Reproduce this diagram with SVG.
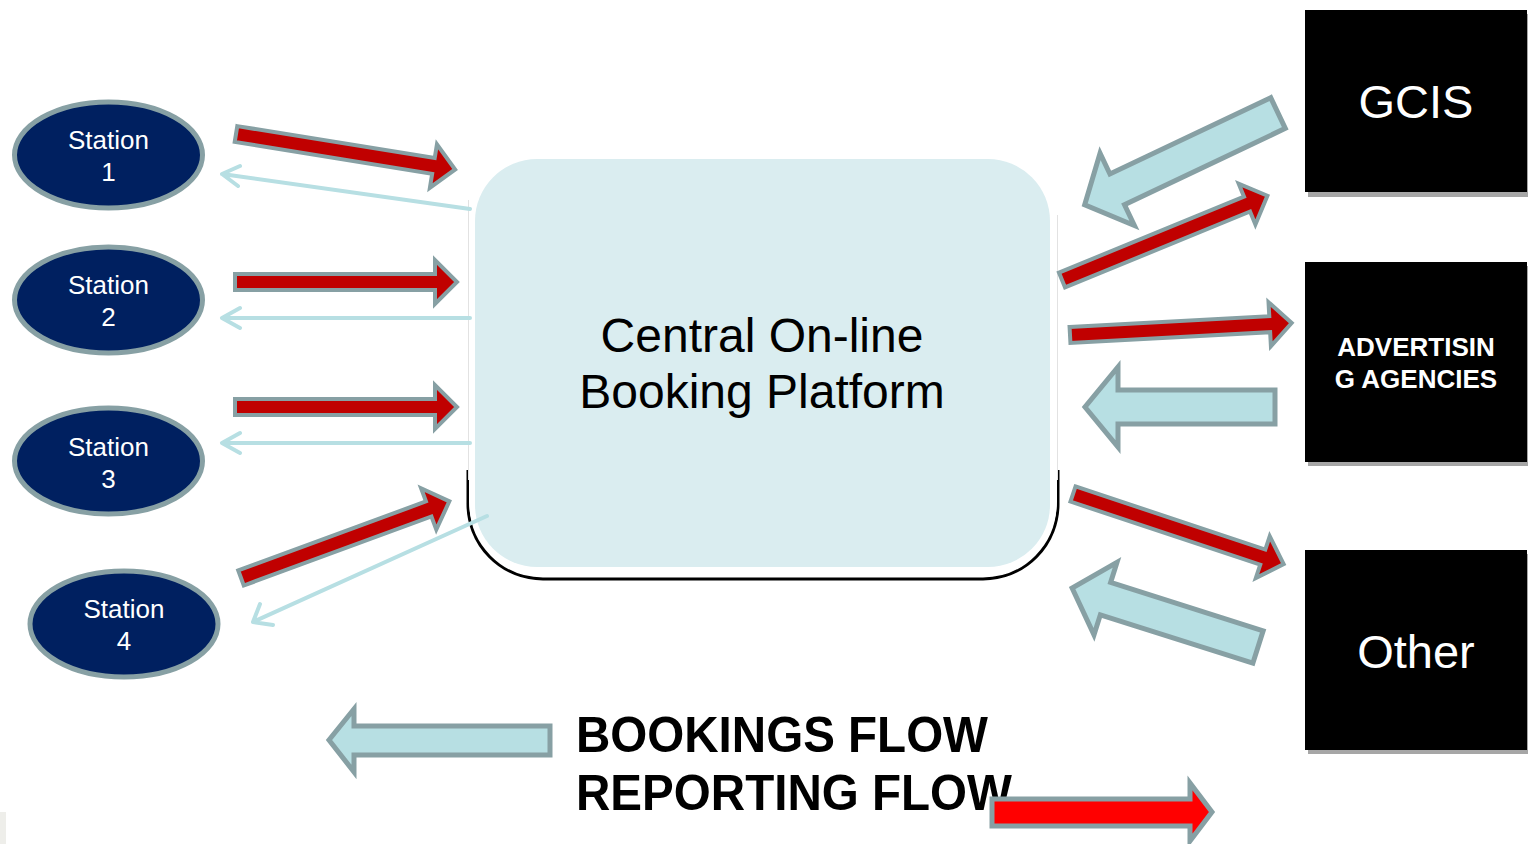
<svg xmlns="http://www.w3.org/2000/svg" width="1528" height="844" viewBox="0 0 1528 844">
<style>
.st{fill:#002060;stroke:#87a0a4;stroke-width:5}
.stt{font-family:"Liberation Sans",Arial,sans-serif;font-size:26px;fill:#fff;text-anchor:middle}
.box{fill:#000}
.shd{fill:#a6a6a6}
.bt{font-family:"Liberation Sans",Arial,sans-serif;fill:#fff;text-anchor:middle}
.red{fill:#c00000;stroke:#87a0a4;stroke-width:4;stroke-linejoin:miter}
.blue{fill:#b7dfe3;stroke:#87a0a4;stroke-width:5;stroke-linejoin:miter}
.thin{fill:none;stroke:#b7dfe3;stroke-width:4;stroke-linecap:round;stroke-linejoin:round}
.leg{font-family:"Liberation Sans",Arial,sans-serif;font-weight:bold;font-size:50px;fill:#000}
</style>
<defs>
<path id="ra" d="M0,-8 L200,-8 L200,-22 L222,0 L200,22 L200,8 L0,8 Z"/>
<path id="ba" d="M0,-17 L-160,-17 L-160,-38 L-195,0 L-160,38 L-160,17 L0,17 Z"/>
<path id="ba2" d="M0,-17 L-178,-17 L-178,-40 L-214,0 L-178,40 L-178,17 L0,17 Z"/>
</defs>
<rect x="0" y="812" width="6" height="32" fill="#eeeeea"/>
<g id="platform">
<path d="M468,470 L468,503 A75,75 0 0 0 543,579 L983,579 A75,75 0 0 0 1058,503 L1058,470" fill="none" stroke="#000" stroke-width="3"/>
<rect x="469" y="155" width="588" height="420" rx="74" fill="#fff"/>
<line x1="468.5" y1="200" x2="468.5" y2="480" stroke="#e2e2e2" stroke-width="1"/>
<line x1="1057.5" y1="215" x2="1057.5" y2="480" stroke="#e2e2e2" stroke-width="1"/>
<rect x="475" y="159" width="575" height="408" rx="62" fill="#daedf0"/>
<text x="762" y="352" font-family="Liberation Sans,Arial,sans-serif" font-size="48" text-anchor="middle" fill="#000">Central On-line</text>
<text x="762" y="408" font-family="Liberation Sans,Arial,sans-serif" font-size="48" text-anchor="middle" fill="#000">Booking Platform</text>
</g>
<g id="station1"><ellipse class="st" cx="108.5" cy="155" rx="94" ry="53"/><text class="stt" x="108.5" y="149">Station</text><text class="stt" x="108.5" y="181">1</text></g>
<g id="station2"><ellipse class="st" cx="108.5" cy="300" rx="94" ry="53"/><text class="stt" x="108.5" y="294">Station</text><text class="stt" x="108.5" y="326">2</text></g>
<g id="station3"><ellipse class="st" cx="108.5" cy="461" rx="94" ry="53"/><text class="stt" x="108.5" y="456">Station</text><text class="stt" x="108.5" y="488">3</text></g>
<g id="station4"><ellipse class="st" cx="124" cy="624" rx="94" ry="53"/><text class="stt" x="124" y="618">Station</text><text class="stt" x="124" y="650">4</text></g>
<g id="gcis"><rect class="shd" x="1308" y="14" width="220" height="183"/><rect class="box" x="1305" y="10" width="222" height="182"/><text class="bt" x="1416" y="118" font-size="47">GCIS</text></g>
<g id="advertising"><rect class="shd" x="1308" y="266" width="220" height="200"/><rect class="box" x="1305" y="262" width="222" height="200"/><text class="bt" x="1416" y="356" font-size="26" font-weight="bold">ADVERTISIN</text><text class="bt" x="1416" y="388" font-size="26" font-weight="bold">G AGENCIES</text></g>
<g id="other"><rect class="shd" x="1308" y="554" width="220" height="200"/><rect class="box" x="1305" y="550" width="222" height="200"/><text class="bt" x="1416" y="668" font-size="47">Other</text></g>
<g id="connectors">
<use href="#ra" class="red" transform="translate(236,134) rotate(9.2)"/>
<use href="#ra" class="red" transform="translate(235,282)"/>
<use href="#ra" class="red" transform="translate(235,407)"/>
<use href="#ra" class="red" transform="translate(241,578) rotate(-20.2)"/>
<path class="thin" d="M470,209 L222,174 M240,166 L222,174 L238,186"/>
<path class="thin" d="M470,318 L222,318 M240,308 L222,318 L240,328"/>
<path class="thin" d="M470,443 L222,443 M240,433 L222,443 L240,453"/>
<path class="thin" d="M487,516 L253,622 M260,604 L253,622 L273,625"/>
<use href="#ba2" class="blue" transform="translate(1278,113) rotate(-25.4)"/>
<use href="#ra" class="red" transform="translate(1062,280) rotate(-22.3)"/>
<use href="#ra" class="red" transform="translate(1070,335) rotate(-3.1)"/>
<path class="blue" d="M1275,390 L1118,390 L1118,367 L1085,407 L1118,447 L1118,424 L1275,424 Z"/>
<use href="#ra" class="red" transform="translate(1073,494) rotate(18.4)"/>
<use href="#ba" class="blue" transform="translate(1258,647) rotate(17.6)"/>
</g>
<g id="legend">
<path class="blue" d="M550,726 L354,726 L354,709 L329,740 L354,772 L354,755 L550,755 Z"/>
<text class="leg" x="576" y="752" textLength="412" lengthAdjust="spacingAndGlyphs">BOOKINGS FLOW</text>
<text class="leg" x="576" y="810" textLength="436" lengthAdjust="spacingAndGlyphs">REPORTING FLOW</text>
<path d="M992,799 L1190,799 L1190,783 L1212,812 L1190,841 L1190,826 L992,826 Z" fill="#ff0000" stroke="#87a0a4" stroke-width="5"/>
</g>
</svg>
